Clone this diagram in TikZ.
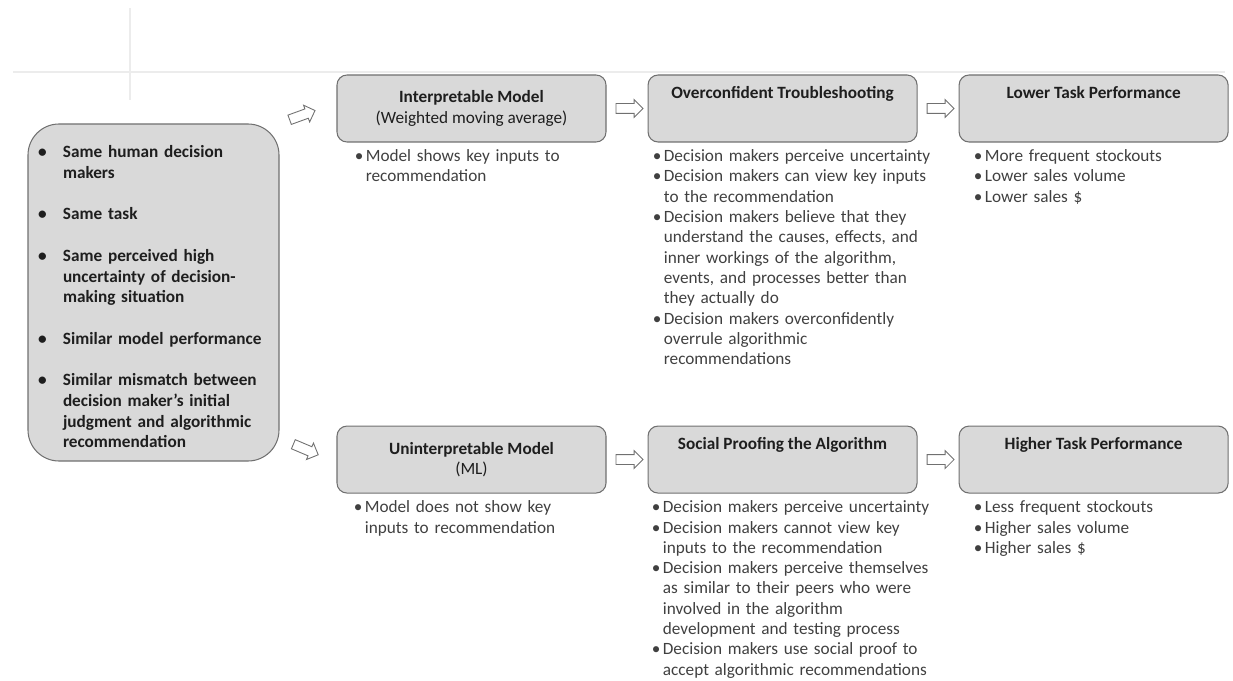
\documentclass[tikz,border=0pt]{standalone}
\usepackage{fontspec}
\setmainfont{Carlito}
\usetikzlibrary{shapes.arrows, positioning, calc}
\usepackage{xcolor}
\definecolor{boxgray}{RGB}{217,217,217}
\definecolor{edgegray}{RGB}{112,112,112}
\definecolor{listgray}{RGB}{64,64,64}
\definecolor{titlegray}{RGB}{30,30,30}
\definecolor{faintgray}{RGB}{236,236,236}
\newcommand{\pitem}[2][0.22cm]{\par\noindent\hangindent=#1\hangafter=1\makebox[#1][l]{\textbullet}#2\par}
\newcommand{\itemgap}{\vskip 11.8pt}

\begin{document}
\begin{tikzpicture}[
    font=\fontsize{9.8}{11.8}\selectfont,
    cond/.style={draw=edgegray, fill=boxgray, line width=0.6pt, rounded corners=0.62cm, minimum width=5.02cm, minimum height=6.74cm, text width=4.62cm, align=left, inner xsep=0.2cm, text=titlegray, font=\fontsize{9.8}{11.8}\selectfont\bfseries},
    stage/.style={draw=edgegray, fill=boxgray, line width=0.6pt, rounded corners=0.2cm, minimum width=5.38cm, minimum height=1.34cm, align=center, text=titlegray},
    notes/.style={align=left, text width=6cm, inner sep=0pt, text=listgray, font=\fontsize{9.8}{11.55}\selectfont},
    blockarrow/.style={single arrow, draw=edgegray, fill=white, line width=0.5pt, minimum height=0.54cm, inner sep=0.09cm, single arrow head extend=0.08cm}
  ]
    \useasboundingbox (0,0) rectangle (24.66,-13.6);
    \draw[faintgray, line width=0.8pt] (0.26,-1.44) -- (24.5,-1.44);
    \draw[faintgray, line width=0.8pt] (2.6,-0.16) -- (2.6,-2.0);
    \node[cond] (cond) at (3.07,-5.85)
    {\pitem[0.5cm]{Same human decision\newline makers}\itemgap
     \pitem[0.5cm]{Same task}\itemgap
     \pitem[0.5cm]{Same perceived high\newline uncertainty of decision-\newline making situation}\itemgap
     \pitem[0.5cm]{Similar model performance}\itemgap
     \pitem[0.5cm]{Similar mismatch between\newline decision maker’s initial\newline judgment and algorithmic\newline recommendation}};
    \node[stage] (im) at (9.43,-2.17) {\textbf{Interpretable Model}\\(Weighted moving average)};
    \node[stage, right=0.82cm of im] (ot) {\textbf{Overconfident Troubleshooting}\\[3pt]\strut};
    \node[stage, right=0.82cm of ot] (lp) {\textbf{Lower Task Performance}\\[3pt]\strut};
    \node[stage, below=5.66cm of im] (um) {\textbf{Uninterpretable Model}\\(ML)};
    \node[stage, right=0.82cm of um] (sp) {\textbf{Social Proofing the Algorithm}\\[3pt]\strut};
    \node[stage, right=0.82cm of sp] (hp) {\textbf{Higher Task Performance}\\[3pt]\strut};
    \node[notes, below=-0.03cm of im.south west, anchor=north west, xshift=0.36cm] (imn)
    {\pitem{Model shows key inputs to\newline recommendation}};
    \node[notes, below=-0.03cm of ot.south west, anchor=north west, xshift=0.1cm] (otn)
    {\pitem{Decision makers perceive uncertainty}
     \pitem{Decision makers can view key inputs\newline to the recommendation}
     \pitem{Decision makers believe that they\newline understand the causes, effects, and\newline inner workings of the algorithm,\newline events, and processes better than\newline they actually do}
     \pitem{Decision makers overconfidently\newline overrule algorithmic\newline recommendations}};
    \node[notes, below=-0.03cm of lp.south west, anchor=north west, xshift=0.3cm] (lpn)
    {\pitem{More frequent stockouts}
     \pitem{Lower sales volume}
     \pitem{Lower sales \$}};
    \node[notes, below=-0.03cm of um.south west, anchor=north west, xshift=0.34cm] (umn)
    {\pitem{Model does not show key\newline inputs to recommendation}};
    \node[notes, below=-0.03cm of sp.south west, anchor=north west, xshift=0.08cm] (spn)
    {\pitem{Decision makers perceive uncertainty}
     \pitem{Decision makers cannot view key\newline inputs to the recommendation}
     \pitem{Decision makers perceive themselves\newline as similar to their peers who were\newline involved in the algorithm\newline development and testing process}
     \pitem{Decision makers use social proof to\newline accept algorithmic recommendations}};
    \node[notes, below=-0.03cm of hp.south west, anchor=north west, xshift=0.3cm] (hpn)
    {\pitem{Less frequent stockouts}
     \pitem{Higher sales volume}
     \pitem{Higher sales \$}};
    \node[blockarrow, rotate=20] (a1) at ($(cond.north east)!0.5!(im.west)+(-0.16,0)$) {};
    \node[blockarrow, rotate=-23] (a2) at ($(cond.south east)!0.5!(um.west)+(-0.09,0.24)$) {};
    \node[blockarrow] (a3) at ($(im.east)!0.5!(ot.west)$) {};
    \node[blockarrow] (a4) at ($(ot.east)!0.5!(lp.west)$) {};
    \node[blockarrow] (a5) at ($(um.east)!0.5!(sp.west)$) {};
    \node[blockarrow] (a6) at ($(sp.east)!0.5!(hp.west)$) {};
  \end{tikzpicture}
\end{document}
